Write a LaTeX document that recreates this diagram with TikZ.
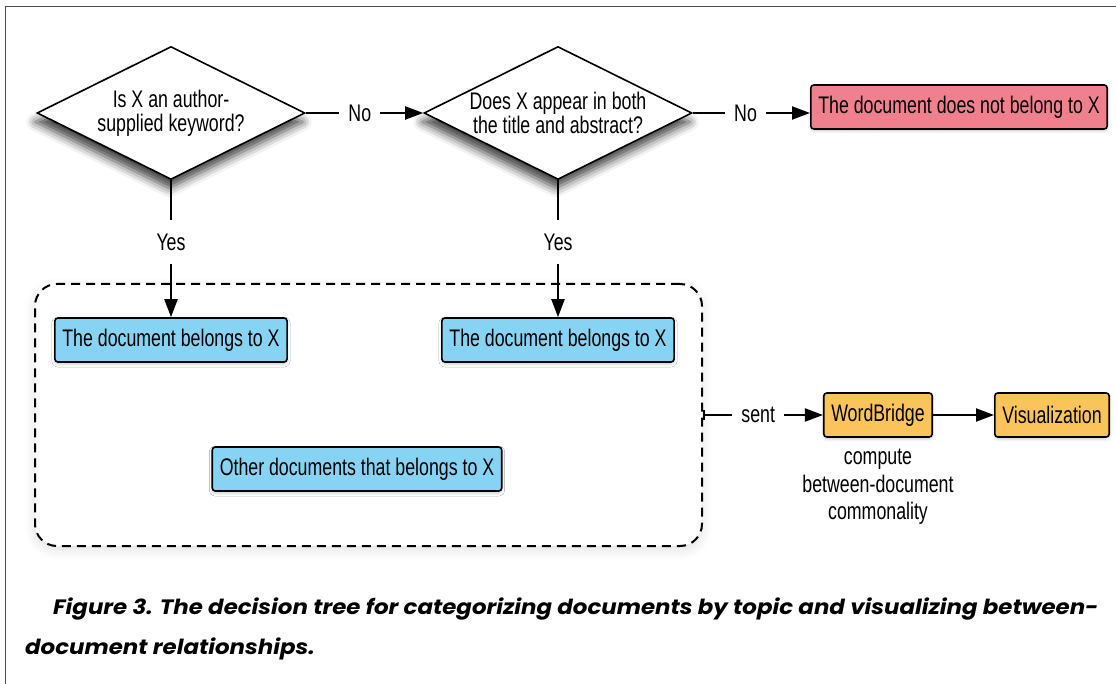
\documentclass[tikz,border=0pt]{standalone}
\usepackage{fontspec}
\setmainfont{Liberation Sans}[FakeStretch=0.74]
\newfontfamily\capfont{Poppins}[FakeStretch=1.1]
\usepackage{tikz}
\usetikzlibrary{shapes.geometric, arrows.meta, shadows.blur}
\definecolor{docblue}{RGB}{135,211,243}
\definecolor{docred}{RGB}{240,128,141}
\definecolor{docorange}{RGB}{251,196,90}
\tikzstyle{decision} = [diamond, aspect=2, draw=black, line width=1.6pt, fill=white, minimum width=268pt, minimum height=133pt, inner sep=0pt, align=center, blur shadow={shadow xshift=-2pt, shadow yshift=-9pt, shadow blur radius=9pt, shadow opacity=75}]
\tikzstyle{doc} = [rectangle, rounded corners=3pt, draw=black, line width=1.6pt, minimum height=44pt, inner xsep=7.5pt, fill=docblue, blur shadow={shadow xshift=0pt, shadow yshift=-2pt, shadow blur radius=3pt, shadow opacity=20}]
\tikzstyle{group} = [rectangle, rounded corners=22pt, draw=black, line width=2pt, dash pattern=on 9pt off 6pt, fill=white, minimum width=667pt, minimum height=262pt, blur shadow={shadow xshift=0pt, shadow yshift=-4pt, shadow blur radius=10pt, shadow opacity=12}]
\tikzstyle{arrow} = [line width=2pt, -{Triangle[length=18pt,width=13pt]}]
\tikzstyle{lbl} = [fill=white, inner xsep=9pt, inner ysep=14pt]
\tikzstyle{caption} = [anchor=base west, inner sep=0pt, font=\capfont\bfseries\itshape\fontsize{20.8}{40}\selectfont]

\begin{document}
\begin{tikzpicture}
      [x=1pt, y=-1pt,
      font=\fontsize{24}{24}\selectfont,
      ]
      \useasboundingbox (0,0) rectangle (1116,684);
      \draw[line width=1pt, black!70] (1116,7) -- (5,7) -- (5,684);

      % questions
      \node[decision] (d1) at (171,113) {Is X an author-\\supplied keyword?};
      \node[decision] (d2) at (558,113) {Does X appear in both\\the title and abstract?};
      \node[doc, fill=docred] (nob) at (959,107) {The document does not belong to X};

      % documents that belong to X
      \node[group] (grp) at (368.5,415) {};
      \node[doc] (b1) at (171,340) {The document belongs to X};
      \node[doc] (b2) at (558,340) {The document belongs to X};
      \node[doc] (b3) at (357,469) {Other documents that belongs to X};

      % WordBridge
      \node[doc, fill=docorange] (wb) at (878,415) {WordBridge};
      \node[doc, fill=docorange] (vis) at (1052,415) {Visualization};
      \node[align=center, font=\fontsize{24}{27.5}\selectfont] (wbnote) at (878,487) {compute\\between-document\\commonality};

      \draw[arrow] (d1) -- node[lbl, pos=0.46] {No} (d2);
      \draw[arrow] (d2.east) -- node[lbl, pos=0.45] {No} (d2.east -| nob.west);
      \draw[arrow] (d1) -- node[lbl, pos=0.45] {Yes} (b1);
      \draw[arrow] (d2) -- node[lbl, pos=0.45] {Yes} (b2);
      \draw[arrow, {Bar[width=10pt]}-{Triangle[length=18pt,width=13pt]}] (grp.east) -- node[lbl, pos=0.46] {sent} (wb);
      \draw[arrow] (wb) -- (vis);

      % caption
      \node[caption] (cap1) at (53,614) {Figure 3. The decision tree for categorizing documents by topic and visualizing between-};
      \node[caption] (cap2) at (25,654) {document relationships.};
\end{tikzpicture}
\end{document}
